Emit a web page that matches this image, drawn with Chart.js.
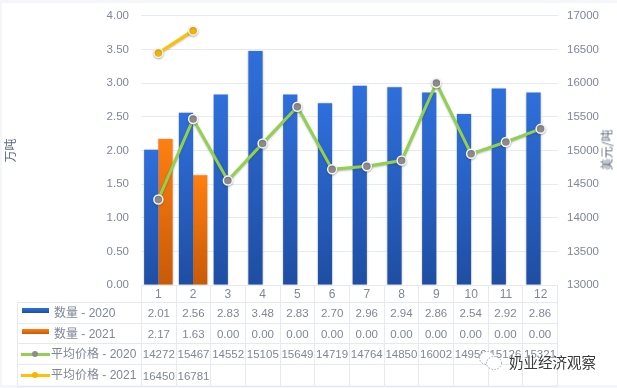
<!DOCTYPE html>
<html>
<head>
<meta charset="utf-8">
<script src="https://cdn.jsdelivr.net/npm/chart.js@4"></script>
<style>
html, body { margin: 0; padding: 0; background: #f5f6f9; }
#wrap { position: relative; width: 617px; height: 388px; overflow: hidden; }
#panel { position: absolute; left: 2px; top: 3px; width: 615px; height: 382px; background: #fff; }
#c { position: absolute; left: 0; top: 0; }
#tbl { position: absolute; left: 17px; top: 285px; width: 540px; border-collapse: collapse; table-layout: fixed;
       font: 11.5px "Liberation Sans", "Noto Sans CJK SC", sans-serif; color: #7f8797; }
#tbl td { border: 1.5px solid #e6e9f1; padding: 0; text-align: center; white-space: nowrap; overflow: visible; }
#tbl td.name { text-align: left; position: relative; font-size: 12px; }
#tbl td.blank { border-top: none; border-left: none; }
.bar { position: absolute; left: 4px; top: 5px; width: 27px; height: 5px; }
.ln { position: absolute; left: 3px; top: 9px; width: 29px; height: 3px; }
.dot { position: absolute; left: 11px; top: -2px; width: 6px; height: 6px; border-radius: 50%; }
.lbl { position: absolute; top: 0; white-space: nowrap; }
#rtitle { position: absolute; left: 606px; top: 150px; transform: translate(-50%, -50%) rotate(-90deg);
          font: 12px "Noto Sans CJK SC", sans-serif; color: #5f6b7e; white-space: nowrap; }
#mark { position: absolute; left: 509px; top: 351px; font: 14.5px "Noto Sans CJK SC", sans-serif; color: #3a3a3a;
        text-shadow: 0 0 2px #fff, 0 0 2px #fff; white-space: nowrap; }
#logo { position: absolute; left: 478px; top: 350px; }
</style>
</head>
<body>
<div id="wrap">
  <div id="panel"></div>
  <canvas id="c" width="617" height="388"></canvas>
  <table id="tbl"></table>
  <div id="rtitle">美元/吨</div>
  <svg id="logo" width="25" height="21" viewBox="0 0 25 21">
    <g fill="#fff" stroke="#8a8f99" stroke-width="0.8" stroke-dasharray="1.5 1.5">
      <ellipse cx="9" cy="8" rx="7.5" ry="6.5"/>
      <ellipse cx="16" cy="13" rx="7.5" ry="6.5"/>
    </g>
  </svg>
  <div id="mark">奶业经济观察</div>
</div>
<script>
// 月份和数据
const months = ['1', '2', '3', '4', '5', '6', '7', '8', '9', '10', '11', '12'];
const qty2020 = [2.01, 2.56, 2.83, 3.48, 2.83, 2.70, 2.96, 2.94, 2.86, 2.54, 2.92, 2.86];
const qty2021 = [2.17, 1.63, 0, 0, 0, 0, 0, 0, 0, 0, 0, 0];
const price2020 = [14272, 15467, 14552, 15105, 15649, 14719, 14764, 14850, 16002, 14950, 15126, 15321];
const price2021 = [16450, 16781, null, null, null, null, null, null, null, null, null, null];

const textColor = '#7f8797';
const gridColor = '#e6ebf3';

// gradient runs over the height of each bar
function barGradient(top, bottom) {
    return ctx => {
        const s = ctx.chart.scales.y;
        if (ctx.type !== 'data' || !s) return top;
        const y0 = s.getPixelForValue(ctx.raw), y1 = s.getPixelForValue(0);
        if (!isFinite(y0) || !isFinite(y1)) return top; // scale not laid out yet
        const g = ctx.chart.ctx.createLinearGradient(0, y0, 0, y1);
        g.addColorStop(0, top);
        g.addColorStop(1, bottom);
        return g;
    };
}

// soft shadow under bars and lines
const softShadow = {
    id: 'softShadow',
    beforeDatasetDraw(chart, args) {
        chart.ctx.save();
        if (args.meta.type === 'line') {
            chart.ctx.shadowColor = 'rgba(60,60,60,0.35)';
            chart.ctx.shadowBlur = 2;
            chart.ctx.shadowOffsetY = 1;
        } else {
            chart.ctx.shadowColor = 'rgba(90,95,115,0.35)';
            chart.ctx.shadowBlur = 2;
        }
    },
    afterDatasetDraw(chart) {
        chart.ctx.restore();
    }
};

new Chart(document.getElementById('c'), {
    data: {
        labels: months,
        datasets: [
            { type: 'line', label: '平均价格 - 2021', data: price2021, yAxisID: 'y2', order: 1,
              borderColor: '#ffc000', borderWidth: 3, pointBackgroundColor: '#f2b705',
              pointBorderColor: '#f4f4f4', pointBorderWidth: 1.5, pointRadius: 4.5, tension: 0 },
            { type: 'line', label: '平均价格 - 2020', data: price2020, yAxisID: 'y2', order: 2,
              borderColor: '#92d050', borderWidth: 3, pointBackgroundColor: '#8c8c8c',
              pointBorderColor: '#f4f4f4', pointBorderWidth: 1.5, pointRadius: 4.5, tension: 0 },
            { type: 'bar', label: '数量 - 2020', data: qty2020, yAxisID: 'y', order: 3,
              backgroundColor: barGradient('#2f6fdc', '#1f4ea3'),
              categoryPercentage: 0.82, barPercentage: 1 },
            { type: 'bar', label: '数量 - 2021', data: qty2021, yAxisID: 'y', order: 4,
              backgroundColor: barGradient('#ff7f10', '#c85a08'),
              categoryPercentage: 0.82, barPercentage: 1 }
        ]
    },
    options: {
        responsive: false,
        animation: false,
        layout: { padding: { top: 15, bottom: 86, left: 0, right: 0 } },
        plugins: { legend: { display: false }, tooltip: { enabled: false } },
        scales: {
            x: {
                grid: { display: false, drawTicks: false },
                border: { display: false },
                ticks: { color: textColor, font: { family: 'Liberation Sans', size: 12 }, padding: 2, maxRotation: 0 },
                afterFit(s) { s.height = 17; }
            },
            y: {
                position: 'left', min: 0, max: 4,
                // tick gap comes from an invisible tick mark, tick padding would push the plot top down
                grid: { color: gridColor, drawTicks: true, tickLength: 12, tickColor: 'transparent', lineWidth: 1 },
                border: { display: false },
                ticks: { stepSize: 0.5, color: textColor, padding: 0, font: { family: 'Liberation Sans', size: 11.5 },
                         callback: v => v.toFixed(2) },
                title: { display: true, text: '万吨', color: '#5f6b7e', padding: { top: 3, bottom: 0 },
                         font: { family: 'Noto Sans CJK SC', size: 12 } },
                afterFit(s) { s.width = 141; }
            },
            y2: {
                position: 'right', min: 13000, max: 17000,
                grid: { display: false, drawTicks: false },
                border: { display: false },
                ticks: { stepSize: 500, color: textColor, padding: 9, font: { family: 'Liberation Sans', size: 11.5 },
                         callback: v => String(v) },
                afterFit(s) { s.width = 59; }
            }
        }
    },
    plugins: [softShadow]
});

// 数据表
const rows = [
    { name: '数量 - 2020', values: qty2020.map(v => v.toFixed(2)), kind: 'bar', colors: ['#2f6fdc', '#1f4ea3'] },
    { name: '数量 - 2021', values: qty2021.map(v => v.toFixed(2)), kind: 'bar', colors: ['#ff7f10', '#c85a08'] },
    { name: '平均价格 - 2020', values: price2020, kind: 'line', colors: ['#92d050', '#8c8c8c'] },
    { name: '平均价格 - 2021', values: price2021, kind: 'line', colors: ['#ffc000', '#f2b705'] }
];
const rowHeights = [21, 20, 21, 22];

const tbl = document.getElementById('tbl');
let html = '<colgroup><col style="width:124px">' + months.map(() => '<col style="width:34.67px">').join('') + '</colgroup>';
html += '<tr style="height:17px"><td class="blank"></td>' + months.map(() => '<td></td>').join('') + '</tr>';
rows.forEach((r, i) => {
    let key;
    if (r.kind === 'bar') {
        key = `<span class="bar" style="background:linear-gradient(${r.colors[0]},${r.colors[1]})"></span>` +
              `<span class="lbl" style="left:36px">${r.name}</span>`;
    } else {
        key = `<span class="ln" style="background:${r.colors[0]}"><span class="dot" style="background:${r.colors[1]}"></span></span>` +
              `<span class="lbl" style="left:33px">${r.name}</span>`;
    }
    html += `<tr style="height:${rowHeights[i]}px"><td class="name">${key}</td>` +
            r.values.map(v => `<td>${v === null ? '' : v}</td>`).join('') + '</tr>';
});
tbl.innerHTML = html;
</script>
</body>
</html>
